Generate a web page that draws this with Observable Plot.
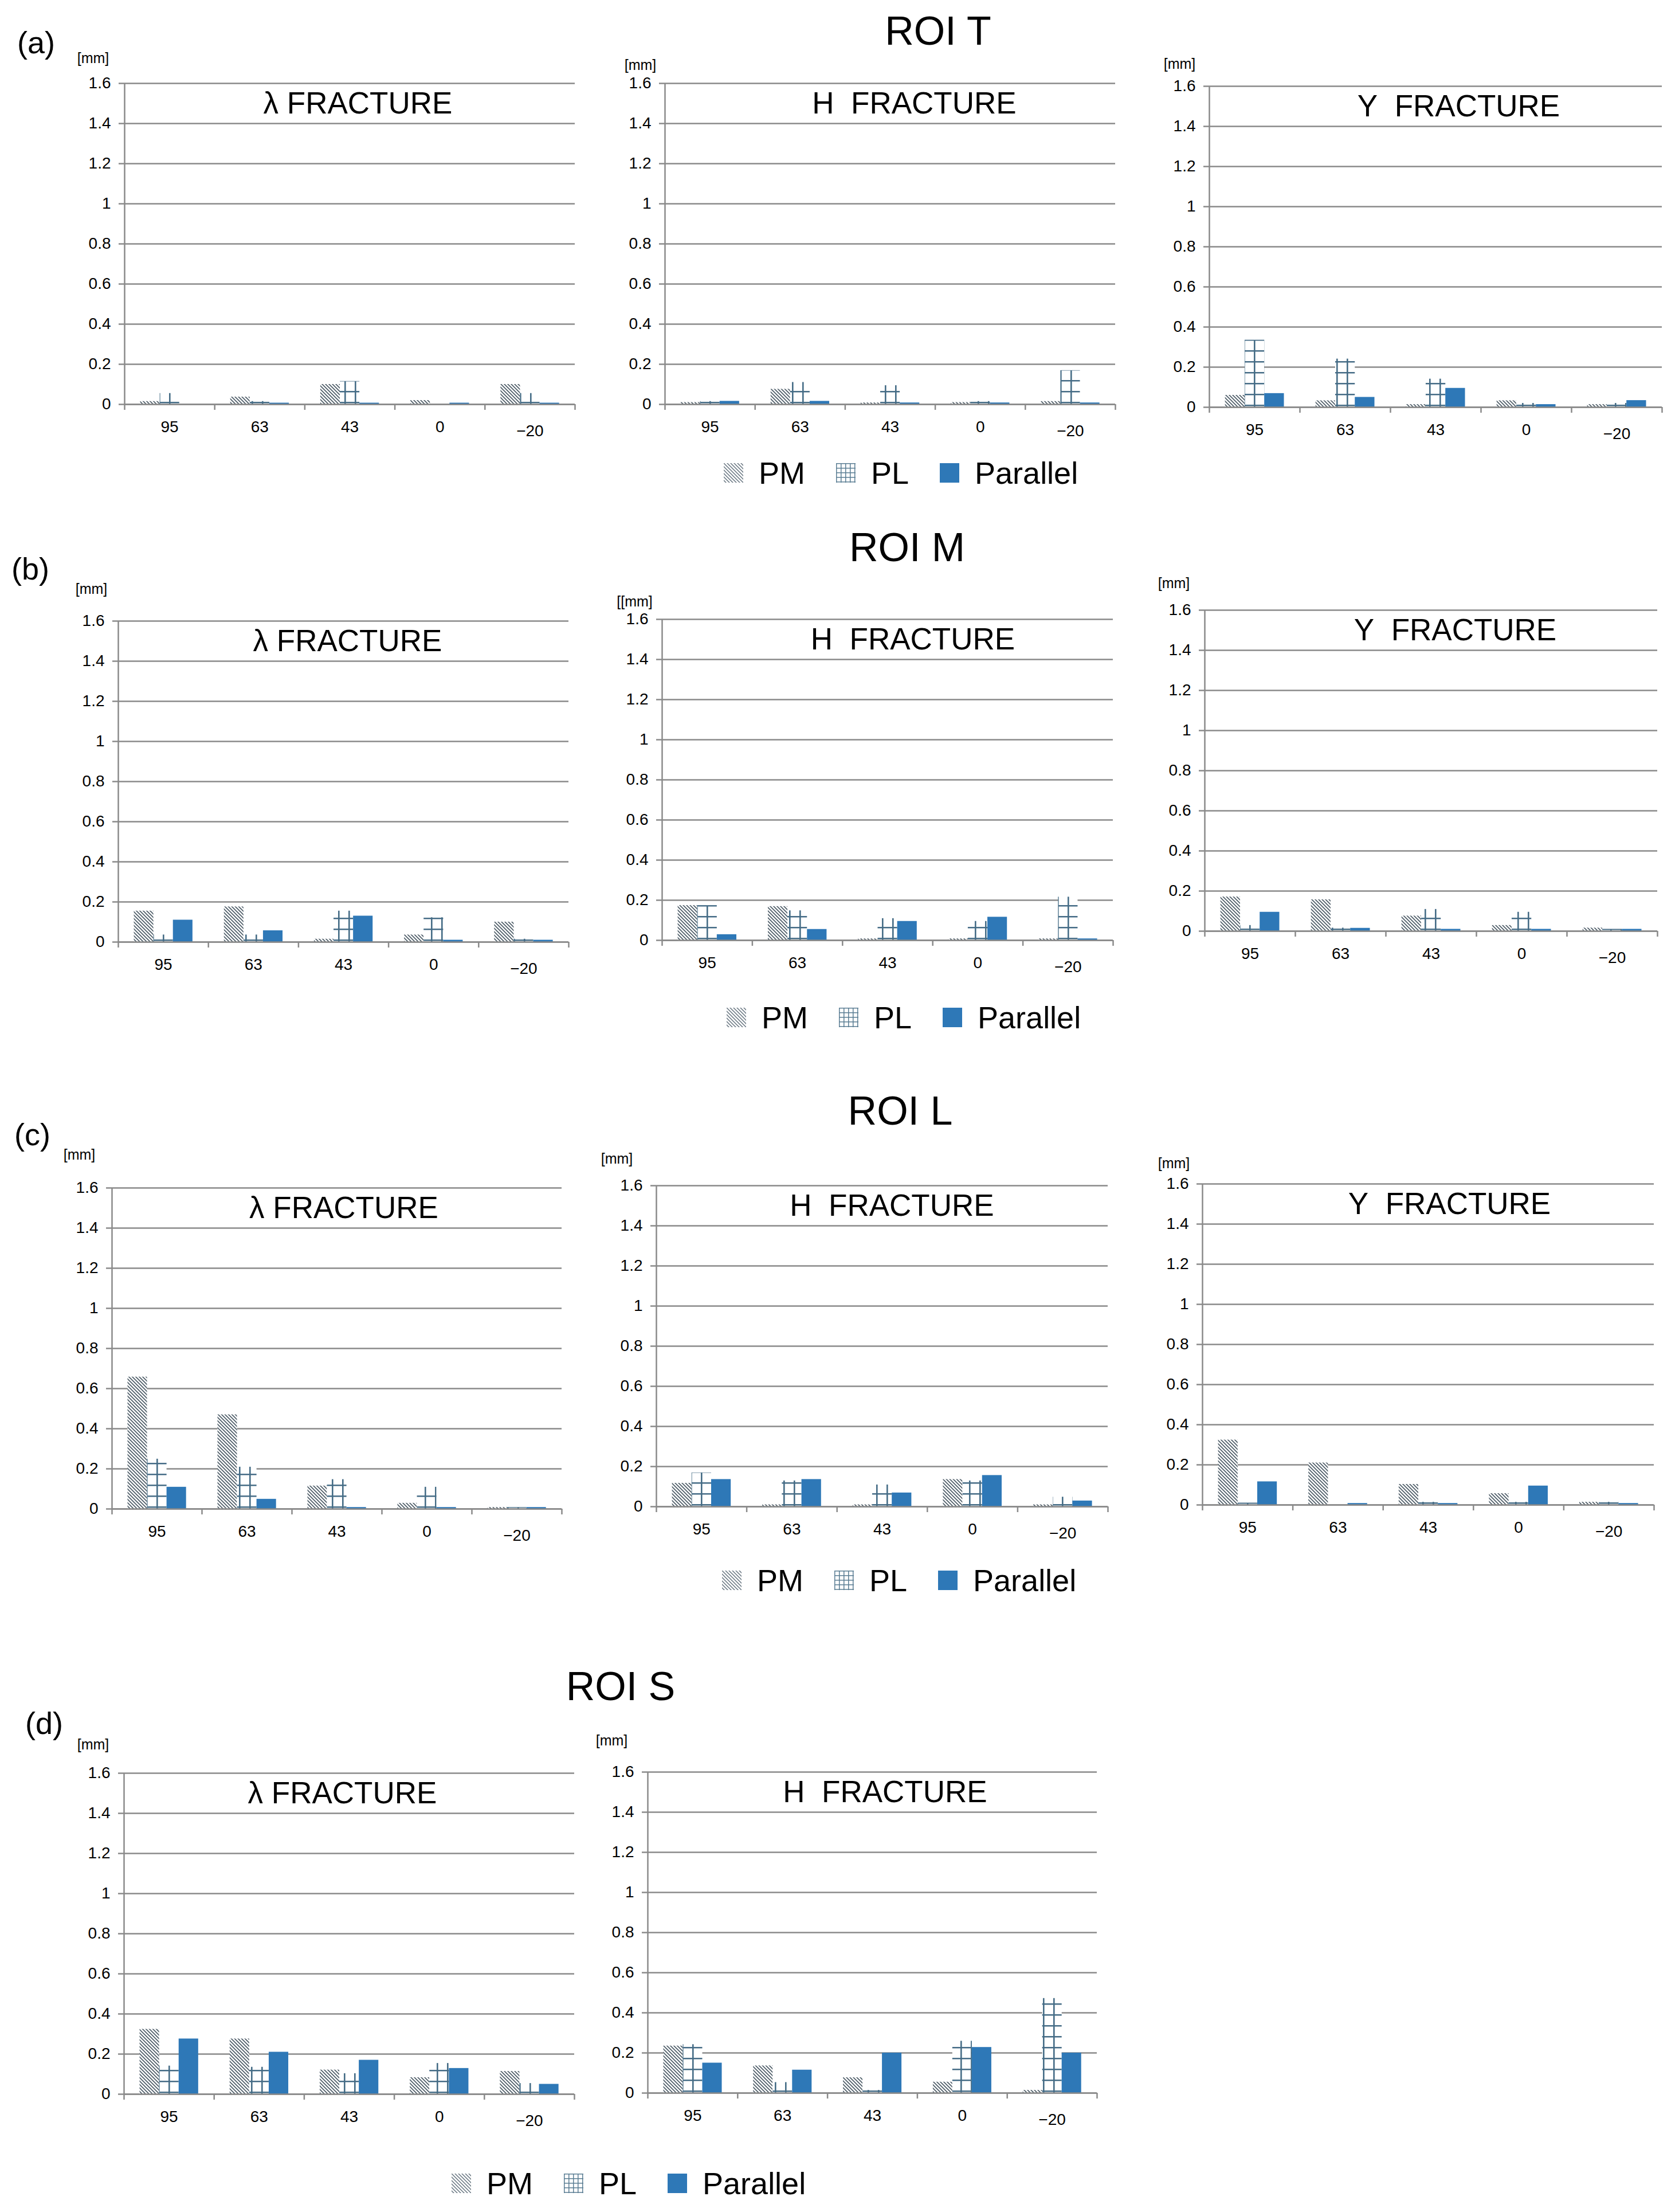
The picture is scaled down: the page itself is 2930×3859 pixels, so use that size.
<!DOCTYPE html>
<html><head><meta charset="utf-8">
<script src="https://cdn.jsdelivr.net/npm/d3@7"></script>
<script src="https://cdn.jsdelivr.net/npm/@observablehq/plot@0.6"></script>
<style>
html,body{margin:0;padding:0;background:#fff;}
#root{position:relative;width:2930px;height:3859px;overflow:hidden;font-family:"Liberation Sans",Arial,sans-serif;color:#000;}
.abs{position:absolute;white-space:nowrap;}
.roi{font-size:70px;transform:translate(-50%,-50%);}
.letter{font-size:54px;transform:translateY(-50%);}
.leg{transform:translateY(-50%);}
</style></head><body>
<svg width="0" height="0" style="position:absolute"><defs>
<pattern id="pmHatch" patternUnits="userSpaceOnUse" width="6" height="6"><rect width="6" height="6" fill="#fff"/><path d="M-1,-1L7,7M-1,5L1,7M5,-1L7,1" stroke="#4e5d68" stroke-width="1.7"/></pattern>
<pattern id="plGrid" patternUnits="userSpaceOnUse" width="18" height="19"><rect width="18" height="19" fill="#fff"/><path d="M1.25,0V19M0,1.25H18" stroke="#456c86" stroke-width="2.7"/></pattern>
<pattern id="pmHatchL" patternUnits="userSpaceOnUse" width="6" height="6"><rect width="6" height="6" fill="#fff"/><path d="M-1,-1L7,7M-1,5L1,7M5,-1L7,1" stroke="#66747f" stroke-width="1.5"/></pattern>
<pattern id="plGridL" patternUnits="userSpaceOnUse" width="8" height="8"><rect width="8" height="8" fill="#fff"/><path d="M0.75,0V8M0,0.75H8" stroke="#5a7d93" stroke-width="1.5"/></pattern>
</defs></svg>
<div id="root"></div>
<script>
// ---------- data ----------
const categories = ["95", "63", "43", "0", "\u221220"];
const series = ["PM", "PL", "Parallel"];
const yTicks = [0, 0.2, 0.4, 0.6, 0.8, 1, 1.2, 1.4, 1.6];

// ROI T
const T_lambda_PM  = [0.015, 0.037, 0.100, 0.020, 0.100];
const T_lambda_PL  = [0.055, 0.015, 0.115, 0.000, 0.055];
const T_lambda_Par = [0.000, 0.007, 0.007, 0.007, 0.007];
const T_H_PM  = [0.010, 0.076, 0.008, 0.010, 0.015];
const T_H_PL  = [0.015, 0.110, 0.094, 0.015, 0.169];
const T_H_Par = [0.016, 0.016, 0.008, 0.008, 0.008];
const T_Y_PM  = [0.060, 0.033, 0.014, 0.033, 0.014];
const T_Y_PL  = [0.335, 0.241, 0.141, 0.020, 0.020];
const T_Y_Par = [0.069, 0.050, 0.095, 0.014, 0.034];
// ROI M
const M_lambda_PM  = [0.155, 0.176, 0.015, 0.036, 0.100];
const M_lambda_PL  = [0.036, 0.036, 0.155, 0.122, 0.015];
const M_lambda_Par = [0.110, 0.057, 0.130, 0.010, 0.010];
const M_H_PM  = [0.174, 0.169, 0.008, 0.008, 0.008];
const M_H_PL  = [0.174, 0.148, 0.109, 0.095, 0.216];
const M_H_Par = [0.029, 0.055, 0.095, 0.116, 0.008];
const M_Y_PM  = [0.171, 0.157, 0.076, 0.029, 0.016];
const M_Y_PL  = [0.029, 0.016, 0.109, 0.095, 0.010];
const M_Y_Par = [0.095, 0.015, 0.010, 0.010, 0.010];
// ROI L
const L_lambda_PM  = [0.658, 0.470, 0.115, 0.029, 0.008];
const L_lambda_PL  = [0.249, 0.209, 0.147, 0.109, 0.008];
const L_lambda_Par = [0.109, 0.049, 0.008, 0.008, 0.008];
const L_H_PM  = [0.117, 0.010, 0.010, 0.136, 0.010];
const L_H_PL  = [0.169, 0.129, 0.109, 0.129, 0.048];
const L_H_Par = [0.136, 0.136, 0.069, 0.156, 0.029];
const L_Y_PM  = [0.324, 0.210, 0.103, 0.057, 0.014];
const L_Y_PL  = [0.010, 0.000, 0.014, 0.014, 0.014];
const L_Y_Par = [0.116, 0.008, 0.008, 0.095, 0.008];
// ROI S
const S_lambda_PM  = [0.324, 0.276, 0.121, 0.083, 0.114];
const S_lambda_PL  = [0.141, 0.135, 0.103, 0.154, 0.054];
const S_lambda_Par = [0.276, 0.210, 0.170, 0.129, 0.050];
const S_H_PM  = [0.235, 0.136, 0.077, 0.055, 0.014];
const S_H_PL  = [0.242, 0.053, 0.014, 0.259, 0.472];
const S_H_Par = [0.150, 0.115, 0.200, 0.228, 0.200];

const titles = {lambda: "\u03bb FRACTURE", H: "H\u00a0 FRACTURE", Y: "Y\u00a0 FRACTURE"};
const roiTitles = ["ROI T", "ROI M", "ROI L", "ROI S"];
const letters = ["(a)", "(b)", "(c)", "(d)"];

// ---------- layout (pixel placement only) ----------
const panels = [
  {vals:[T_lambda_PM,T_lambda_PL,T_lambda_Par], t:"lambda", mm:"[mm]",  ax:217,  right:1003, top:145,  bottom:705,  tdx:14, mmx:-55, mmy:-44},
  {vals:[T_H_PM,T_H_PL,T_H_Par],                t:"H",      mm:"[mm]",  ax:1160, right:1946, top:145,  bottom:705,  tdx:42, mmx:-43, mmy:-32},
  {vals:[T_Y_PM,T_Y_PL,T_Y_Par],                t:"Y",      mm:"[mm]",  ax:2110, right:2900, top:150,  bottom:710,  tdx:40, mmx:-52, mmy:-39},
  {vals:[M_lambda_PM,M_lambda_PL,M_lambda_Par], t:"lambda", mm:"[mm]",  ax:206,  right:992,  top:1083, bottom:1643, tdx:7,  mmx:-47, mmy:-56},
  {vals:[M_H_PM,M_H_PL,M_H_Par],                t:"H",      mm:"[[mm]", ax:1155, right:1942, top:1080, bottom:1640, tdx:44, mmx:-48, mmy:-31},
  {vals:[M_Y_PM,M_Y_PL,M_Y_Par],                t:"Y",      mm:"[mm]",  ax:2102, right:2892, top:1064, bottom:1624, tdx:42, mmx:-54, mmy:-47},
  {vals:[L_lambda_PM,L_lambda_PL,L_lambda_Par], t:"lambda", mm:"[mm]",  ax:195,  right:980,  top:2072, bottom:2632, tdx:12, mmx:-57, mmy:-58},
  {vals:[L_H_PM,L_H_PL,L_H_Par],                t:"H",      mm:"[mm]",  ax:1145, right:1933, top:2068, bottom:2628, tdx:17, mmx:-69, mmy:-47},
  {vals:[L_Y_PM,L_Y_PL,L_Y_Par],                t:"Y",      mm:"[mm]",  ax:2098, right:2886, top:2065, bottom:2625, tdx:37, mmx:-50, mmy:-36},
  {vals:[S_lambda_PM,S_lambda_PL,S_lambda_Par], t:"lambda", mm:"[mm]",  ax:216,  right:1002, top:3093, bottom:3653, tdx:-12, mmx:-54, mmy:-50},
  {vals:[S_H_PM,S_H_PL,S_H_Par],                t:"H",      mm:"[mm]",  ax:1130, right:1914, top:3091, bottom:3651, tdx:22, mmx:-63, mmy:-55}
];
const roiPos = [{x:1637,y:54},{x:1583,y:955},{x:1571,y:1938},{x:1083,y:2942}];
const letterPos = [{x:30,y:74},{x:20,y:992},{x:25,y:1979},{x:44,y:3006}];
const legendPos = [{x:1263,y:825},{x:1268,y:1775},{x:1260,y:2757},{x:788,y:3809}];

const FONT = '"Liberation Sans", Arial, sans-serif';
const GRAY = "#8a8a8a";
const barFills = ["url(#pmHatch)", "url(#plGrid)", "#2e78b7"];
const legendFills = ["url(#pmHatchL)", "url(#plGridL)", "#2e78b7"];
const barStart = 0.175, barW = 0.217;

const root = document.getElementById("root");
function place(el, x, y, cls) {
  const d = document.createElement("div");
  d.className = "abs " + (cls || "");
  d.style.left = x + "px"; d.style.top = y + "px";
  if (typeof el === "string") d.textContent = el; else d.appendChild(el);
  root.appendChild(d);
  return d;
}

const mL = 120, mR = 20, mT = 90, mB = 80;
panels.forEach(p => {
  const rows = [];
  series.forEach((s, k) => p.vals[k].forEach((v, i) => rows.push({cat: i, k, series: s, value: v})));
  const W = p.right - p.ax, H = p.bottom - p.top;
  const chart = Plot.plot({
    width: W + mL + mR, height: H + mT + mB,
    marginLeft: mL, marginRight: mR, marginTop: mT, marginBottom: mB,
    style: {background: "transparent", maxWidth: "none", overflow: "visible", fontFamily: FONT, fontSize: "27px", color: "#000"},
    x: {domain: [0, categories.length], axis: null},
    y: {domain: [0, 1.6], axis: null},
    color: {domain: series, range: barFills},
    marks: [
      Plot.gridY(yTicks, {stroke: GRAY, strokeOpacity: 1, strokeWidth: 2.5, insetLeft: -10}),
      Plot.rect(rows, {
        x1: d => d.cat + barStart + d.k * barW,
        x2: d => d.cat + barStart + (d.k + 1) * barW,
        y1: 0, y2: "value", fill: "series"
      }),
      Plot.ruleY([0], {stroke: GRAY, strokeWidth: 2.5}),
      Plot.ruleX([0], {stroke: GRAY, strokeWidth: 2.5}),
      Plot.axisY({ticks: yTicks, tickSize: 0, tickPadding: 24, tickFormat: d3.format("~g"), fontSize: 28, fill: "#000", label: null}),
      Plot.axisX({ticks: d3.range(0, categories.length + 1), tickSize: 10, tickFormat: () => "", stroke: GRAY, strokeWidth: 2.5, label: null}),
      Plot.axisX({ticks: d3.range(0, categories.length - 1).map(i => i + 0.5), tickSize: 0, tickPadding: 29,
                  tickFormat: d => categories[Math.floor(d)], fontSize: 28, fill: "#000", label: null}),
      Plot.axisX({ticks: [categories.length - 0.5], tickSize: 0, tickPadding: 36,
                  tickFormat: d => categories[Math.floor(d)], fontSize: 28, fill: "#000", label: null}),
      Plot.text([titles[p.t]], {frameAnchor: "top", dy: 36, dx: p.tdx, fontSize: 53, fill: "#000", lineAnchor: "middle", fontFamily: FONT}),
      Plot.text([p.mm], {frameAnchor: "top-left", dx: p.mmx, dy: p.mmy, fontSize: 25, fill: "#000", lineAnchor: "middle", textAnchor: "middle"})
    ]
  });
  place(chart, p.ax - mL, p.top - mT);
});

roiTitles.forEach((t, i) => place(t, roiPos[i].x, roiPos[i].y, "roi"));
letters.forEach((t, i) => place(t, letterPos[i].x, letterPos[i].y, "letter"));

legendPos.forEach(pos => {
  const leg = Plot.legend({
    color: {type: "ordinal", domain: series, range: legendFills},
    swatchSize: 34,
    style: {fontSize: "54px", fontFamily: FONT, color: "#000", margin: "0", minHeight: "0"}
  });
  place(leg, pos.x, pos.y, "leg");
});
</script>
</body></html>
